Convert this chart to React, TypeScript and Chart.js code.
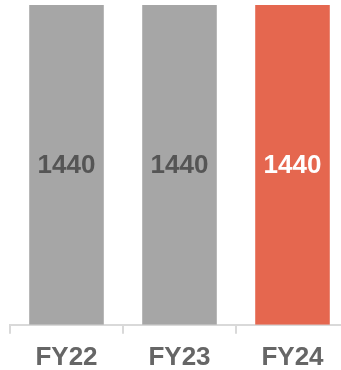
import React, { useEffect, useRef } from "react";
import { Chart, registerables } from "chart.js";

Chart.register(...registerables);

const categories = ["FY22", "FY23", "FY24"];
const values = [1440, 1440, 1440];
const barColors = ["#a6a6a6", "#a6a6a6", "#e5674f"];
const labelColors = ["#555555", "#555555", "#ffffff"];

const valueLabels = {
  id: "valueLabels",
  afterDatasetsDraw(chart: any) {
    const ctx = chart.ctx;
    const meta = chart.getDatasetMeta(0);
    ctx.save();
    ctx.font = "bold 26px 'Liberation Sans', Arial, sans-serif";
    ctx.textAlign = "center";
    ctx.textBaseline = "middle";
    meta.data.forEach((bar: any, i: number) => {
      const p = bar.getProps(["x", "y", "base"], true);
      ctx.fillStyle = labelColors[i];
      ctx.fillText(String(values[i]), p.x, (p.y + p.base) / 2 + 1);
    });
    ctx.restore();
  },
};

export default function App() {
  const ref = useRef<HTMLCanvasElement | null>(null);
  useEffect(() => {
    if (!ref.current) return;
    const chart = new Chart(ref.current, {
      type: "bar",
      data: {
        labels: categories,
        datasets: [
          {
            data: values,
            backgroundColor: barColors,
            barPercentage: 0.66,
            categoryPercentage: 1,
          },
        ],
      },
      options: {
        animation: false,
        responsive: false,
        maintainAspectRatio: false,
        layout: { padding: { left: 10, right: 3, top: 5, bottom: -11 } },
        plugins: { legend: { display: false }, tooltip: { enabled: false } },
        scales: {
          y: { display: false, min: 0, max: 1440 },
          x: {
            grid: {
              drawOnChartArea: false,
              drawTicks: true,
              tickLength: 9,
              color: "#d9d9d9",
              lineWidth: 2,
              offset: true,
            },
            border: { color: "#d9d9d9", width: 2 },
            ticks: {
              color: "#666666",
              padding: 8,
              font: { family: "'Liberation Sans', Arial, sans-serif", size: 26, weight: "bold" },
            },
          },
        },
      },
      plugins: [valueLabels],
    });
    return () => chart.destroy();
  }, []);
  return (
    <div style={{ position: "fixed", left: 0, top: 0, width: 341, height: 370, overflow: "hidden", background: "#fff" }}>
      <canvas ref={ref} width={352} height={370} style={{ display: "block", width: 352, height: 370 }} />
    </div>
  );
}
